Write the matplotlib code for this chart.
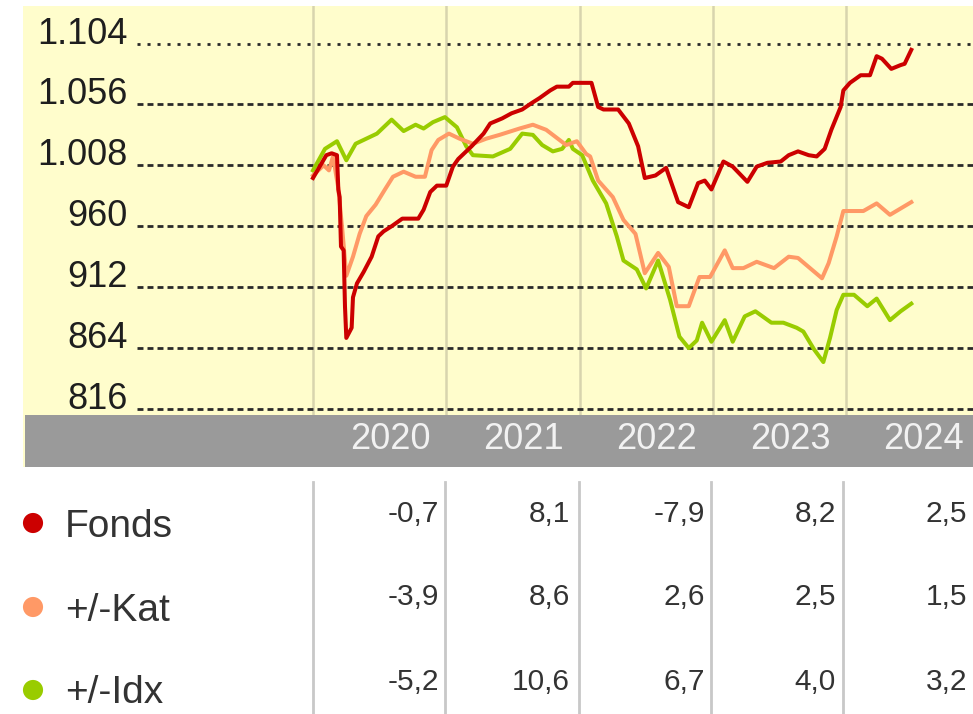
import matplotlib.pyplot as plt
from matplotlib.patches import Rectangle

plt.rcParams['lines.scale_dashes'] = False

# Kursverlauf (Jahr als Dezimalzahl, Wert)
fonds_t = [2020.00, 2020.10, 2020.14, 2020.18, 2020.19, 2020.20, 2020.21, 2020.23, 2020.24, 2020.25,
           2020.29, 2020.30, 2020.33, 2020.38, 2020.44, 2020.49, 2020.53, 2020.59, 2020.67, 2020.79,
           2020.83, 2020.88, 2020.93, 2021.00, 2021.05, 2021.09, 2021.19, 2021.28, 2021.33, 2021.42,
           2021.49, 2021.57, 2021.64, 2021.70, 2021.78, 2021.83, 2021.92, 2021.95, 2022.09, 2022.14,
           2022.18, 2022.29, 2022.37, 2022.44, 2022.49, 2022.57, 2022.65, 2022.70, 2022.74, 2022.82,
           2022.89, 2022.94, 2022.99, 2023.08, 2023.15, 2023.26, 2023.33, 2023.41, 2023.51, 2023.57,
           2023.64, 2023.72, 2023.78, 2023.84, 2023.89, 2023.96, 2023.98, 2024.03, 2024.11, 2024.18,
           2024.23, 2024.27, 2024.34, 2024.41, 2024.44, 2024.49]
fonds_v = [998, 1016, 1017.5, 1016, 989, 983, 944, 941, 897, 872,
           880, 904, 915, 924, 936, 952, 956, 960, 966, 966,
           973, 987, 992, 992, 1007, 1013, 1023, 1033, 1041, 1045,
           1049, 1052, 1057, 1061, 1067, 1070, 1070, 1073, 1073, 1054,
           1052, 1052, 1041, 1023, 998, 1000, 1006, 991, 979, 975,
           994, 996, 989, 1011, 1007, 995, 1007, 1010, 1011, 1016,
           1019, 1016, 1015, 1021, 1036, 1054, 1067, 1073, 1079, 1079,
           1094, 1092, 1084, 1087, 1088, 1099]

kat_t = [2020.00, 2020.08, 2020.12, 2020.15, 2020.19, 2020.22, 2020.25, 2020.30, 2020.35, 2020.40,
         2020.47, 2020.54, 2020.60, 2020.68, 2020.77, 2020.84, 2020.89, 2020.94, 2021.02, 2021.10,
         2021.20, 2021.30, 2021.40, 2021.55, 2021.65, 2021.75, 2021.85, 2021.90, 2021.98, 2022.05,
         2022.08, 2022.14, 2022.25, 2022.33, 2022.42, 2022.49, 2022.59, 2022.67, 2022.73, 2022.82,
         2022.90, 2022.98, 2023.09, 2023.15, 2023.23, 2023.33, 2023.46, 2023.57, 2023.64, 2023.73,
         2023.82, 2023.87, 2023.93, 2023.98, 2024.13, 2024.23, 2024.33, 2024.41, 2024.49]
kat_v = [1000, 1008, 1004, 1015, 990, 957, 921, 936, 954, 968,
         977, 989, 999, 1003, 999, 999, 1020, 1028, 1033, 1029,
         1025, 1029, 1032, 1037, 1040, 1036, 1028, 1024, 1027, 1017,
         1015, 996, 983, 965, 954, 923, 939, 928, 897, 897,
         920, 920, 941, 927, 927, 932, 927, 936, 935, 927,
         919, 931, 952, 972, 972, 978, 969, 974, 979]

idx_t = [2020.00, 2020.09, 2020.18, 2020.25, 2020.32, 2020.40, 2020.48, 2020.59, 2020.68, 2020.77,
         2020.83, 2020.90, 2020.99, 2021.08, 2021.15, 2021.20, 2021.35, 2021.48, 2021.57, 2021.65,
         2021.72, 2021.80, 2021.87, 2021.92, 2021.95, 2022.02, 2022.10, 2022.20, 2022.28, 2022.33,
         2022.43, 2022.50, 2022.59, 2022.68, 2022.75, 2022.82, 2022.88, 2022.92, 2022.99, 2023.09,
         2023.15, 2023.24, 2023.32, 2023.44, 2023.53, 2023.63, 2023.68, 2023.76, 2023.83, 2023.88,
         2023.93, 2023.98, 2024.06, 2024.16, 2024.23, 2024.33, 2024.41, 2024.49]
idx_v = [1004, 1021, 1027, 1012, 1025, 1029, 1033, 1044, 1035, 1040,
         1037, 1042, 1046, 1038, 1023, 1016, 1015, 1021, 1033, 1032,
         1024, 1019, 1021, 1028, 1021, 1016, 996, 978, 952, 933,
         926, 911, 933, 902, 873, 864, 870, 884, 869, 886,
         869, 889, 893, 884, 884, 880, 877, 863, 853, 872,
         894, 906, 906, 897, 903, 886, 893, 899]

y_ticks = [1104, 1056, 1008, 960, 912, 864, 816]
y_labels = ['1.104', '1.056', '1.008', '960', '912', '864', '816']
years = [2020, 2021, 2022, 2023, 2024]

# Jahresperformance in %
series_names = ['Fonds', '+/-Kat', '+/-Idx']
perf_fonds = ['-0,7', '8,1', '-7,9', '8,2', '2,5']
perf_kat = ['-3,9', '8,6', '2,6', '2,5', '1,5']
perf_idx = ['-5,2', '10,6', '6,7', '4,0', '3,2']

red = '#CC0000'
orange = '#FF9966'
green = '#99CC00'

W, H = 973, 714
fig = plt.figure(figsize=(W / 100, H / 100), dpi=100)
fig.patch.set_facecolor('white')

def fbox(x0, y0, x1, y1):
    # pixel box (top-left origin) -> figure fraction
    return [x0 / W, 1 - y1 / H, (x1 - x0) / W, (y1 - y0) / H]

# gelber Hintergrund und graues Jahresband
b = fbox(23, 6, 973, 467)
fig.add_artist(Rectangle((b[0], b[1]), b[2], b[3], transform=fig.transFigure,
                         facecolor='#FFFDCC', edgecolor='none', zorder=-5))
b = fbox(25, 415, 973, 467)
fig.add_artist(Rectangle((b[0], b[1]), b[2], b[3], transform=fig.transFigure,
                         facecolor='#9A9A9A', edgecolor='none', zorder=-4))

ax = fig.add_axes(fbox(137, 6, 973, 415))
ax.patch.set_alpha(0)
for s in ax.spines.values():
    s.set_visible(False)

px_year = 133.25
ax.set_xlim(2020 - 176 / px_year, 2020 + 660 / px_year)
k = 288 / 365.5
ax.set_ylim(816 - 6 * k, 1104 + 37.5 * k)

for yr in years:
    ax.axvline(yr, color='#D8D4AE', lw=1.8, zorder=1)

for v in y_ticks:
    if v == y_ticks[0]:
        ax.axhline(v, color='#2A2A2A', lw=2.0, dashes=(2.2, 5.0), zorder=2)
    else:
        ax.axhline(v, color='#2A2A2A', lw=2.0, dashes=(4.3, 2.9), zorder=2)

ax.plot(idx_t, idx_v, color=green, lw=2.9, zorder=3)
ax.plot(kat_t, kat_v, color=orange, lw=2.9, zorder=4)
ax.plot(fonds_t, fonds_v, color=red, lw=2.9, zorder=5)

ax.set_yticks(y_ticks)
ax.set_yticklabels(y_labels, fontsize=26, color='#1E1E1E', family='Liberation Sans')
for lab in ax.get_yticklabels():
    lab.set_verticalalignment('baseline')
ax.tick_params(axis='y', length=0, pad=7)

ax.set_xticks([y + 0.58 for y in years])
ax.set_xticklabels([str(y) for y in years], fontsize=26, color='#F2F2F2', family='Liberation Sans')
ax.tick_params(axis='x', length=0, pad=5)

# Tabelle unten
tab = fig.add_axes(fbox(0, 467, 973, 714))
tab.set_xlim(0, W)
tab.set_ylim(714, 467)
tab.axis('off')

for x in [313, 445, 579, 711, 843]:
    tab.plot([x, x], [482, 714], color='#C8C8C8', lw=2.0)

row_dot_y = [523, 607, 690]
label_base = [537, 621, 703]
value_base = [522, 605, 690]
col_right = [439, 570, 705, 836, 967]
colors = [red, orange, green]
rows = [perf_fonds, perf_kat, perf_idx]

tab.scatter([33, 33, 33], row_dot_y, s=210, marker='o', c=colors, edgecolors='none')
for i in range(3):
    tab.text(65, label_base[i], series_names[i], fontsize=28, color='#333333',
             family='Liberation Sans', va='baseline', ha='left')
    for j in range(5):
        tab.text(col_right[j], value_base[i], rows[i][j], fontsize=21.5, color='#333333',
                 family='Liberation Sans', va='baseline', ha='right')

plt.savefig('out.png', dpi=100)
